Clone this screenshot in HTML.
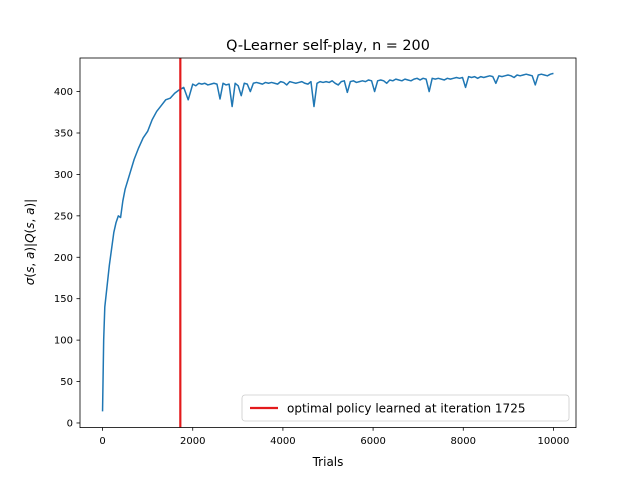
<!DOCTYPE html>
<html><head><meta charset="utf-8"><style>
body{margin:0;background:#fff;font-family:"DejaVu Sans","Liberation Sans",sans-serif}
svg text{font-family:"DejaVu Sans","Liberation Sans",sans-serif;fill:#000}
</style></head><body>
<svg id="chart" width="640" height="480" xmlns="http://www.w3.org/2000/svg">
<rect width="640" height="480" fill="#fff"/>
<text x="328" y="50" font-size="14.4" text-anchor="middle">Q-Learner self-play, n = 200</text>
<g id="plot"></g>
<rect x="80" y="58" width="496" height="369.6" fill="none" stroke="#000" stroke-width="0.8"/>
<text x="328" y="466" font-size="12" text-anchor="middle">Trials</text>
<text transform="translate(34,242) rotate(-90)" font-size="12" text-anchor="middle"><tspan font-style="italic">σ</tspan>(<tspan font-style="italic">s</tspan>, <tspan font-style="italic">a</tspan>)|<tspan font-style="italic">Q</tspan>(<tspan font-style="italic">s</tspan>, <tspan font-style="italic">a</tspan>)|</text>
<g>
<rect x="242" y="395" width="327" height="26" rx="3" fill="#fff" fill-opacity="0.8" stroke="#ccc" stroke-width="0.8"/>
<line x1="250" y1="408" x2="278" y2="408" stroke="#e31a1c" stroke-width="2.2"/>
<text x="287" y="412.5" font-size="12">optimal policy learned at iteration 1725</text>
</g>
</svg>
<script>
const xEarly=[0,25,50,100,150,200,250,300,350,400,450,500,600,700,800,900,1000,1100,1200,1300,1400,1500,1600,1700,1800,1900];
const yEarly=[14,100,140,165,190,210,230,242,250,248,268,282,300,318,332,344,352,366,376,383,390,392,398,402,405,390];
const yLate=[409,407,410,409,410,408,409,410,409,391,410,408,409,382,410,407,395,410,409,400,410,411,410,409,411,410,411,410,409,412,411,408,412,411,410,411,412,410,409,412,382,410,412,411,412,411,413,410,408,412,413,399,412,413,411,412,413,412,414,413,400,413,414,413,410,414,413,415,414,413,415,414,413,415,416,414,416,415,400,416,415,416,415,414,416,415,416,417,416,417,405,418,417,418,416,418,417,418,419,418,410,419,418,419,420,419,417,420,419,420,421,420,419,408,420,421,420,419,421,422];
const xTicks=[0,2000,4000,6000,8000,10000];
const yTicks=[0,50,100,150,200,250,300,350,400];
const optimalIter=1725;
const lateStart=2000, lateEnd=10000;
const X=v=>80+(v+500)/11000*496;
const Y=v=>427.2-(v+5.1)/(441+5.1)*369.6;
const ns="http://www.w3.org/2000/svg";
const g=document.getElementById('plot');
function mk(t,a){const e=document.createElementNS(ns,t);for(const k in a)e.setAttribute(k,a[k]);g.appendChild(e);return e;}
const pts=[];
xEarly.forEach((x,i)=>pts.push(X(x)+','+Y(yEarly[i])));
const step=(lateEnd-lateStart)/(yLate.length-1);
yLate.forEach((v,i)=>pts.push(X(lateStart+i*step)+','+Y(v)));
const line=mk('polyline',{points:pts.join(' '),fill:'none',stroke:'#1f77b4','stroke-width':1.5,'stroke-linejoin':'round'});


const vl=mk('line',{x1:X(optimalIter),x2:X(optimalIter),y1:58,y2:427.2,stroke:'#e31a1c','stroke-width':2.2});


xTicks.forEach(t=>{
 const l=mk('line',{x1:X(t),x2:X(t),y1:427.2,y2:430.7,stroke:'#000','stroke-width':0.8});
 
 
 const tx=mk('text',{x:X(t),y:444,'font-size':10,'text-anchor':'middle'});tx.textContent=t;
 
 
});
yTicks.forEach(t=>{
 const l=mk('line',{x1:76.5,x2:80,y1:Y(t),y2:Y(t),stroke:'#000','stroke-width':0.8});
 
 
 const tx=mk('text',{x:73,y:Y(t)+3.5,'font-size':10,'text-anchor':'end'});tx.textContent=t;
 
 
});
</script>
</body></html>
